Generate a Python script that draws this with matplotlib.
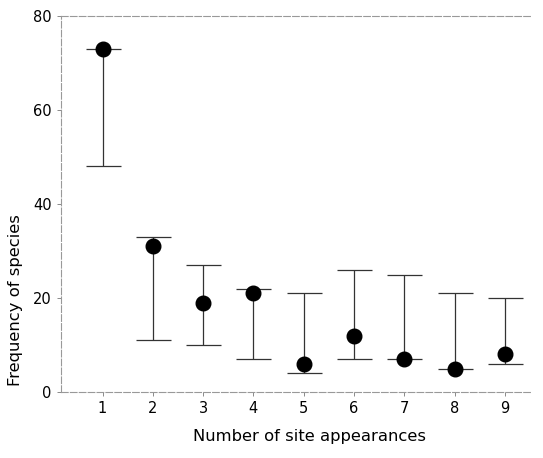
import matplotlib
matplotlib.use("Agg")
import matplotlib.pyplot as plt
import numpy as np

# datos
apariciones = [1, 2, 3, 4, 5, 6, 7, 8, 9]
frecuencia = [73, 31, 19, 21, 6, 12, 7, 5, 8]
limite_sup = [73, 33, 27, 22, 21, 26, 25, 21, 20]
limite_inf = [48, 11, 10, 7, 4, 7, 7, 5, 6]

x = np.array(apariciones)
y = np.array(frecuencia)
err_sup = np.array(limite_sup) - y
err_inf = y - np.array(limite_inf)

fig = plt.figure(figsize=(5.43, 4.58), dpi=100)
ax = fig.add_axes([0.112, 0.144, 0.864, 0.821])

ax.errorbar(x, y, yerr=[err_inf, err_sup], fmt="o", color="black",
            ecolor="#333333", elinewidth=0.9, capsize=12.6, capthick=0.9,
            markersize=10.5)

ax.set_xlim(0.17, 9.5)
ax.set_ylim(0, 80)
ax.set_xticks(apariciones)
ax.set_yticks([0, 20, 40, 60, 80])
ax.tick_params(axis="both", labelsize=10.5, length=3, width=0.6, color="#777777")

for lado in ["left", "bottom", "top"]:
    ax.spines[lado].set_color("#999999")
    ax.spines[lado].set_linewidth(0.8)
    ax.spines[lado].set_linestyle((0, (6, 2)))
ax.spines["right"].set_visible(False)

# las etiquetas no estan centradas en el original
ax.set_ylabel("Frequency of species", fontsize=11.8)
ax.yaxis.set_label_coords(-0.081, 0.245)
ax.set_xlabel("Number of site appearances", fontsize=11.8)
ax.xaxis.set_label_coords(0.531, -0.098)

plt.savefig("out.png", dpi=100)
plt.close()
